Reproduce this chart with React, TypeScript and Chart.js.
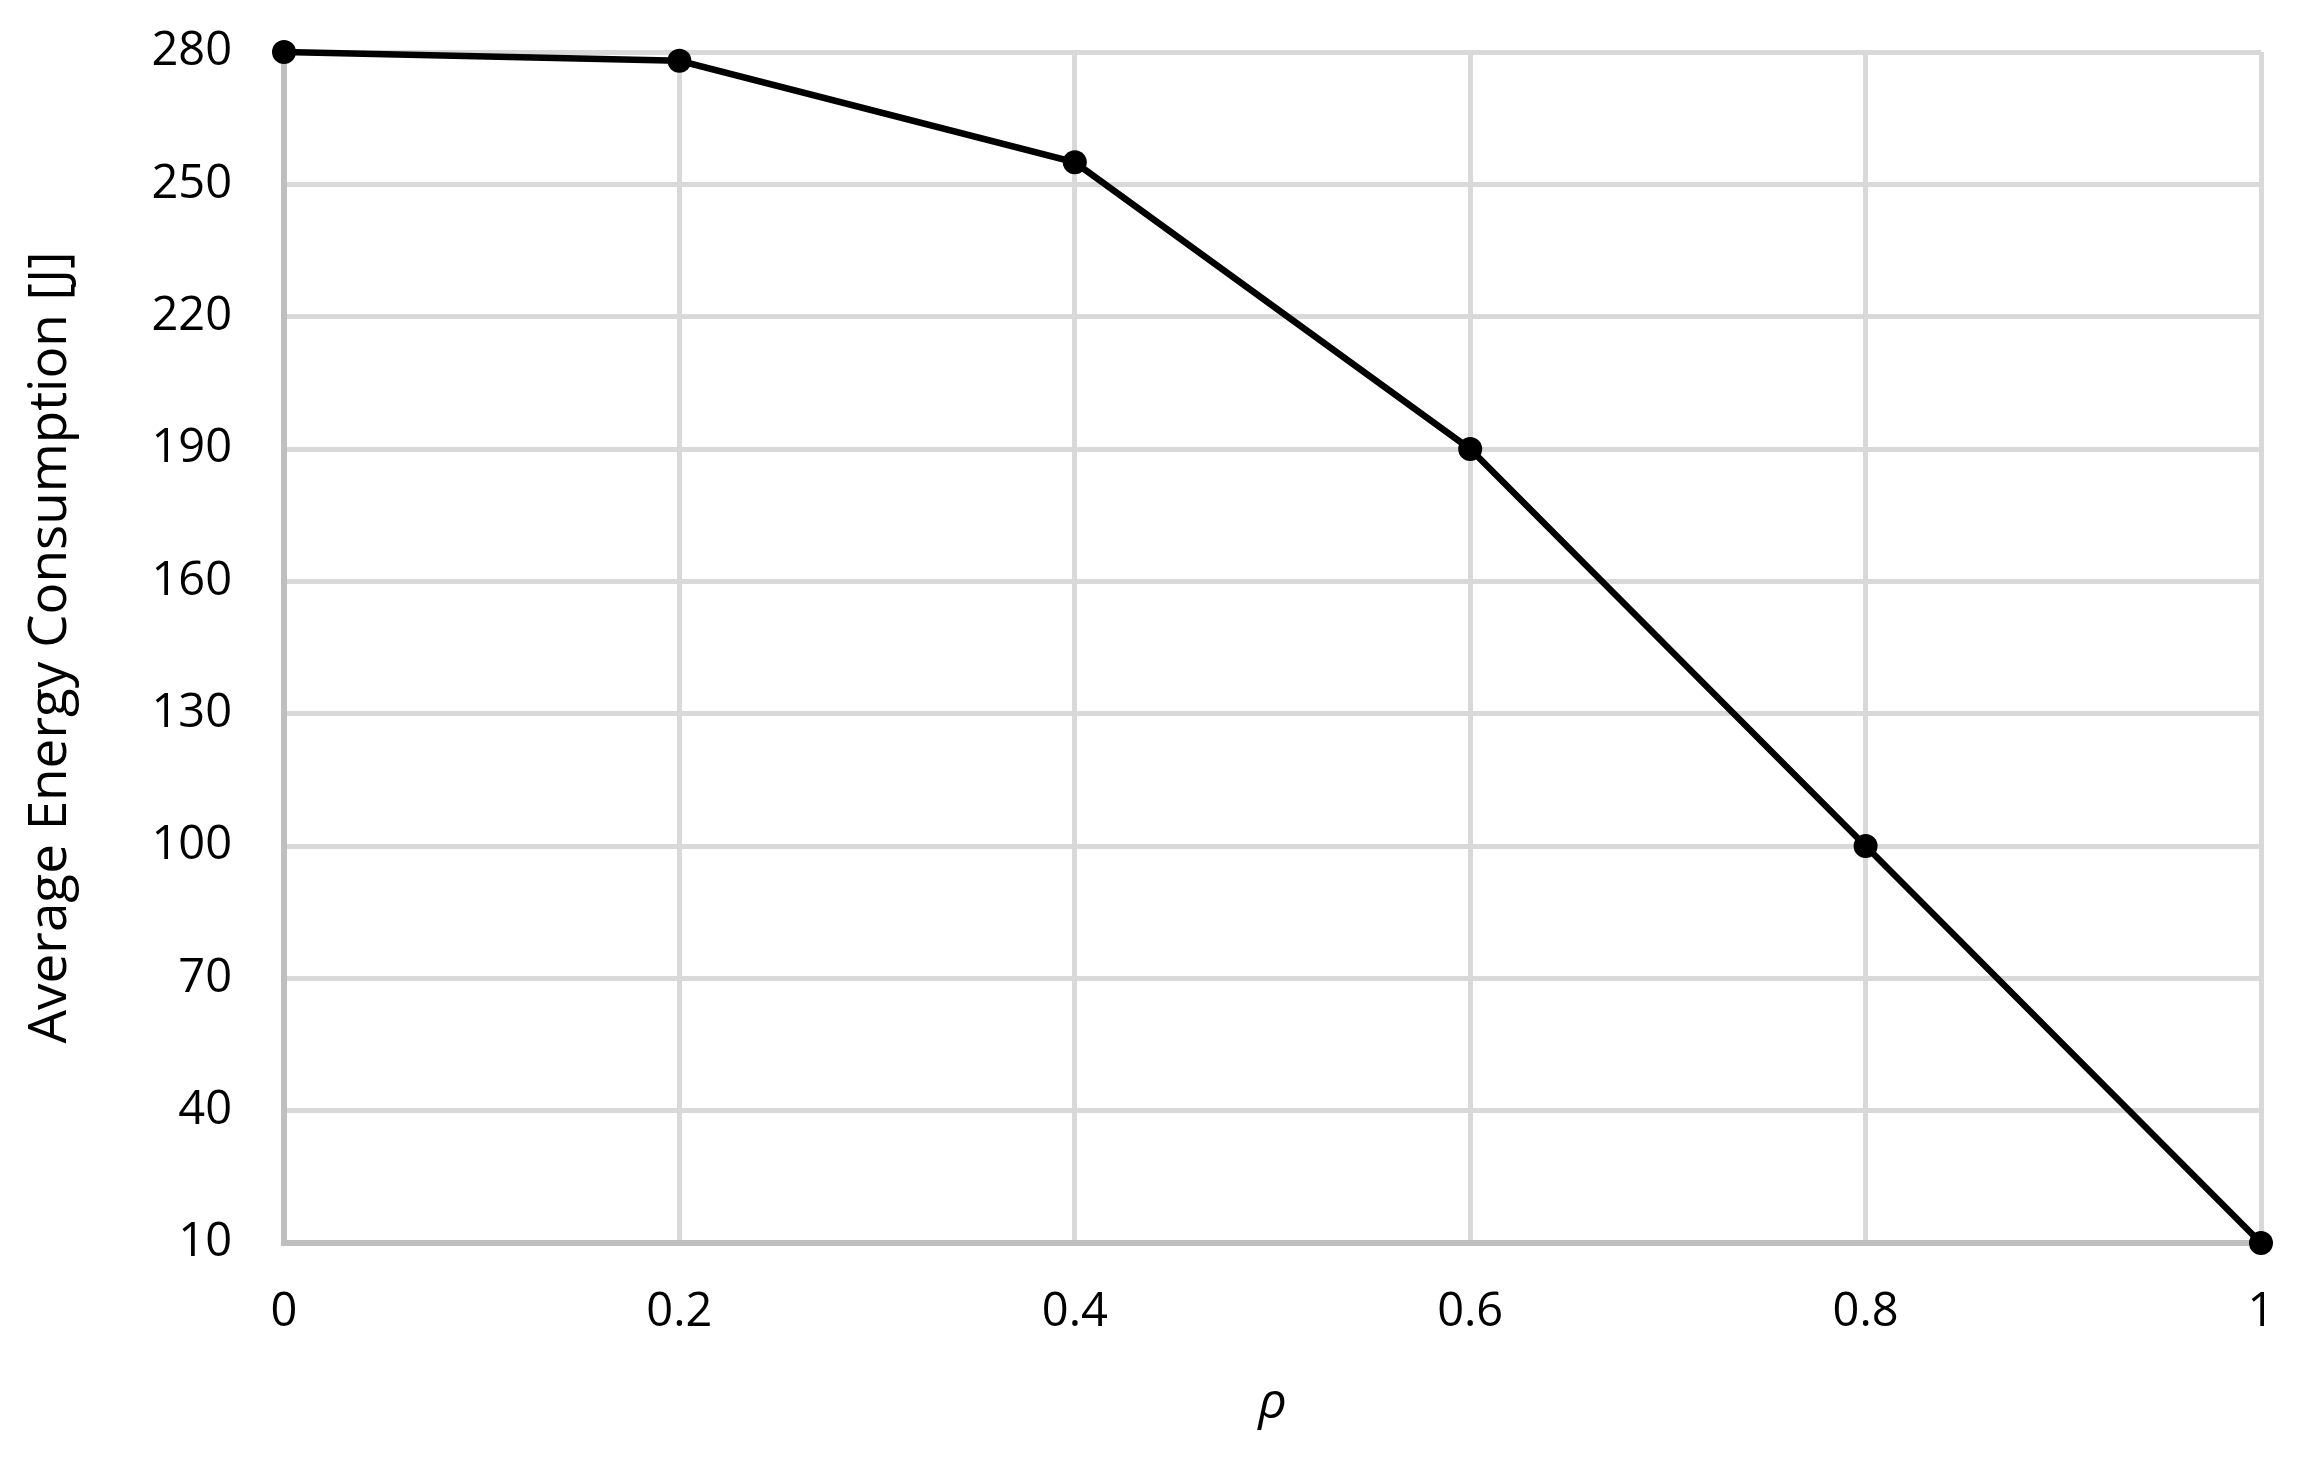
import React, { useEffect, useRef } from "react";
import { Chart, registerables } from "chart.js";

Chart.register(...registerables);

const rhoValues = [0, 0.2, 0.4, 0.6, 0.8, 1];
const energyValues = [280, 278, 255, 190, 100, 10];
const xTickLabels = ["0", "0.2", "0.4", "0.6", "0.8", "1"];
const yTickValues = [10, 40, 70, 100, 130, 160, 190, 220, 250, 280];
const yAxisTitle = "Average Energy Consumption [J]";
const xAxisTitle = "ρ";

const W = 2302;
const H = 1469;

export default function App() {
  const ref = useRef<HTMLCanvasElement | null>(null);

  useEffect(() => {
    document.body.style.margin = "0";
    const canvas = ref.current;
    if (!canvas) return;
    const font = "'Open Sans', 'Noto Sans', sans-serif";
    const chart = new Chart(canvas, {
      type: "line",
      data: {
        datasets: [
          {
            data: rhoValues.map((x, i) => ({ x, y: energyValues[i] })),
            borderColor: "#000000",
            backgroundColor: "#000000",
            borderWidth: 6.5,
            pointRadius: 12,
            pointBackgroundColor: "#000000",
            pointBorderColor: "#000000",
            pointBorderWidth: 0,
            tension: 0,
            clip: false as any,
          },
        ],
      },
      options: {
        animation: false,
        responsive: false,
        devicePixelRatio: 1,
        layout: { padding: { left: 0, right: 41, top: 52, bottom: 0 } },
        plugins: { legend: { display: false }, tooltip: { enabled: false } },
        scales: {
          x: {
            type: "linear",
            min: 0,
            max: 1,
            afterBuildTicks: (scale: any) => {
              scale.ticks = rhoValues.map((v) => ({ value: v }));
            },
            afterFit: (scale: any) => {
              scale.height = H - 1243;
              scale.paddingLeft = 0;
              scale.paddingRight = 0;
            },
            ticks: {
              padding: 41,
              color: "#000000",
              font: { family: font, size: 47 },
              callback: (_v: any, i: number) => xTickLabels[i],
            },
            grid: { color: "#d9d9d9", lineWidth: 5, drawTicks: false },
            border: { color: "#bfbfbf", width: 6 },
            title: {
              display: true,
              text: xAxisTitle,
              color: "#000000",
              font: { family: font, size: 50, style: "italic" },
              padding: { top: 35, bottom: 35 },
            },
          },
          y: {
            type: "linear",
            min: 10,
            max: 280,
            afterBuildTicks: (scale: any) => {
              scale.ticks = yTickValues.map((v) => ({ value: v }));
            },
            afterFit: (scale: any) => {
              scale.width = 284;
              scale.paddingTop = 0;
              scale.paddingBottom = 0;
            },
            ticks: {
              padding: 52,
              color: "#000000",
              font: { family: font, size: 47 },
              callback: (v: any) => String(v),
            },
            grid: { color: "#d9d9d9", lineWidth: 5, drawTicks: false },
            border: { color: "#bfbfbf", width: 6 },
            title: {
              display: true,
              text: yAxisTitle,
              color: "#000000",
              font: { family: font, size: 53 },
              padding: { top: 19, bottom: 19 },
            },
          },
        },
      },
    });
    return () => chart.destroy();
  }, []);

  return (
    <div style={{ width: W, height: H, background: "#ffffff" }}>
      <canvas ref={ref} width={W} height={H} style={{ display: "block", width: W, height: H }} />
    </div>
  );
}
